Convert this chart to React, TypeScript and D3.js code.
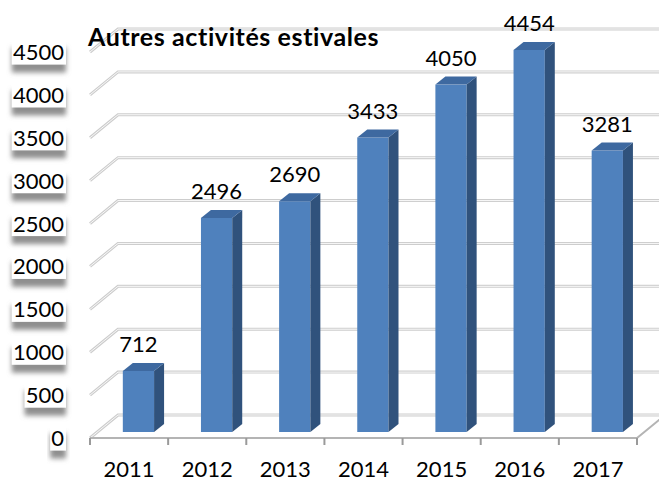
import * as d3 from "d3";

const years = ["2011", "2012", "2013", "2014", "2015", "2016", "2017"];
const values = [712, 2496, 2690, 3433, 4050, 4454, 3281];
const yTicks = [0, 500, 1000, 1500, 2000, 2500, 3000, 3500, 4000, 4500];
const title = "Autres activités estivales";

const W = 659;
const H = 483;
// depth of the 3D box (floor front -> back wall)
const DX = 28;
const DY = -23;
// bar position inside the depth, and bar thickness
const BAR_FY = -6;
const BAR_DX = 10;
const BAR_DY = -8;

const FONT = "Lato, 'Open Sans', sans-serif";

export default function App() {
  const x = d3.scaleBand().domain(years).range([90, 637]).padding(0);
  const y = d3.scaleLinear().domain([0, 4500]).range([438, 52]);
  const bw = x.bandwidth();
  const x0 = x.range()[0];
  const x1 = x.range()[1];

  const gridPath = (v: number) => {
    const yy = y(v);
    return `M${x0},${yy} L${x0 + DX},${yy + DY} L${x1 + DX},${yy + DY}`;
  };

  return (
    <svg
      width={W}
      height={H}
      style={{ position: "absolute", left: 0, top: 0, background: "#fff" }}
    >
      <defs>
        <filter id="lblShadow" x="-20%" y="-20%" width="140%" height="190%">
          <feDropShadow dx="0" dy="8" stdDeviation="2.5" floodColor="#7a7a7a" floodOpacity="0.85" />
        </filter>
      </defs>

      {/* gridlines: side wall + back wall */}
      {yTicks.map((v) => (
        <g key={v}>
          <path d={gridPath(v)} fill="none" stroke="#cdcdcd" strokeWidth={3} />
          <path d={gridPath(v)} fill="none" stroke="#f8f8f8" strokeWidth={1} />
        </g>
      ))}

      {/* floor front edge + right diagonal */}
      <path
        d={`M${x0},${y(0)} L${x1},${y(0)} L${x1 + DX},${y(0) + DY}`}
        fill="none"
        stroke="#b4b4b4"
        strokeWidth={2}
      />
      {[...years.map((d) => x(d) as number), x1].map((tx, i) => (
        <line key={i} x1={tx} x2={tx} y1={y(0)} y2={y(0) + 7} stroke="#9a9a9a" strokeWidth={2} />
      ))}

      {/* bars */}
      {years.map((yr, i) => {
        const v = values[i];
        const left = (x(yr) as number) + bw * 0.42;
        const right = left + bw * 0.4;
        const bottom = y(0) + BAR_FY;
        const top = y(v) + BAR_FY;
        return (
          <g key={yr}>
            <rect x={left} y={top} width={right - left} height={bottom - top} fill="#4f81bd" />
            <path
              d={`M${right},${top} L${right + BAR_DX},${top + BAR_DY} L${right + BAR_DX},${bottom + BAR_DY} L${right},${bottom} Z`}
              fill="#30527c"
            />
            <path
              d={`M${left},${top} L${left + BAR_DX},${top + BAR_DY} L${right + BAR_DX},${top + BAR_DY} L${right},${top} Z`}
              fill="#3e69a0"
            />
            <text
              x={(left + right) / 2}
              y={top + BAR_DY - 11}
              textAnchor="middle"
              fontFamily={FONT}
              fontSize={22}
              fill="#000"
            >
              {v}
            </text>
          </g>
        );
      })}

      {/* y axis labels with white box + shadow */}
      {yTicks.map((v) => {
        const label = String(v);
        const tw = label.length * 12.8;
        const cy = y(v);
        return (
          <g key={v}>
            <rect
              x={65 - tw - 2}
              y={cy - 12.5}
              width={tw + 3}
              height={25}
              fill="#fff"
              filter="url(#lblShadow)"
            />
            <text
              x={64}
              y={cy + 8}
              textAnchor="end"
              fontFamily={FONT}
              fontSize={22}
              fill="#000"
            >
              {label}
            </text>
          </g>
        );
      })}

      {/* x axis labels */}
      {years.map((yr) => (
        <text
          key={yr}
          x={(x(yr) as number) + bw / 2}
          y={477}
          textAnchor="middle"
          fontFamily={FONT}
          fontSize={22}
          fill="#000"
        >
          {yr}
        </text>
      ))}

      <text
        x={88}
        y={46}
        fontFamily={FONT}
        fontWeight="bold"
        fontSize={25}
        letterSpacing={0.6}
        fill="#000"
      >
        {title}
      </text>
    </svg>
  );
}
